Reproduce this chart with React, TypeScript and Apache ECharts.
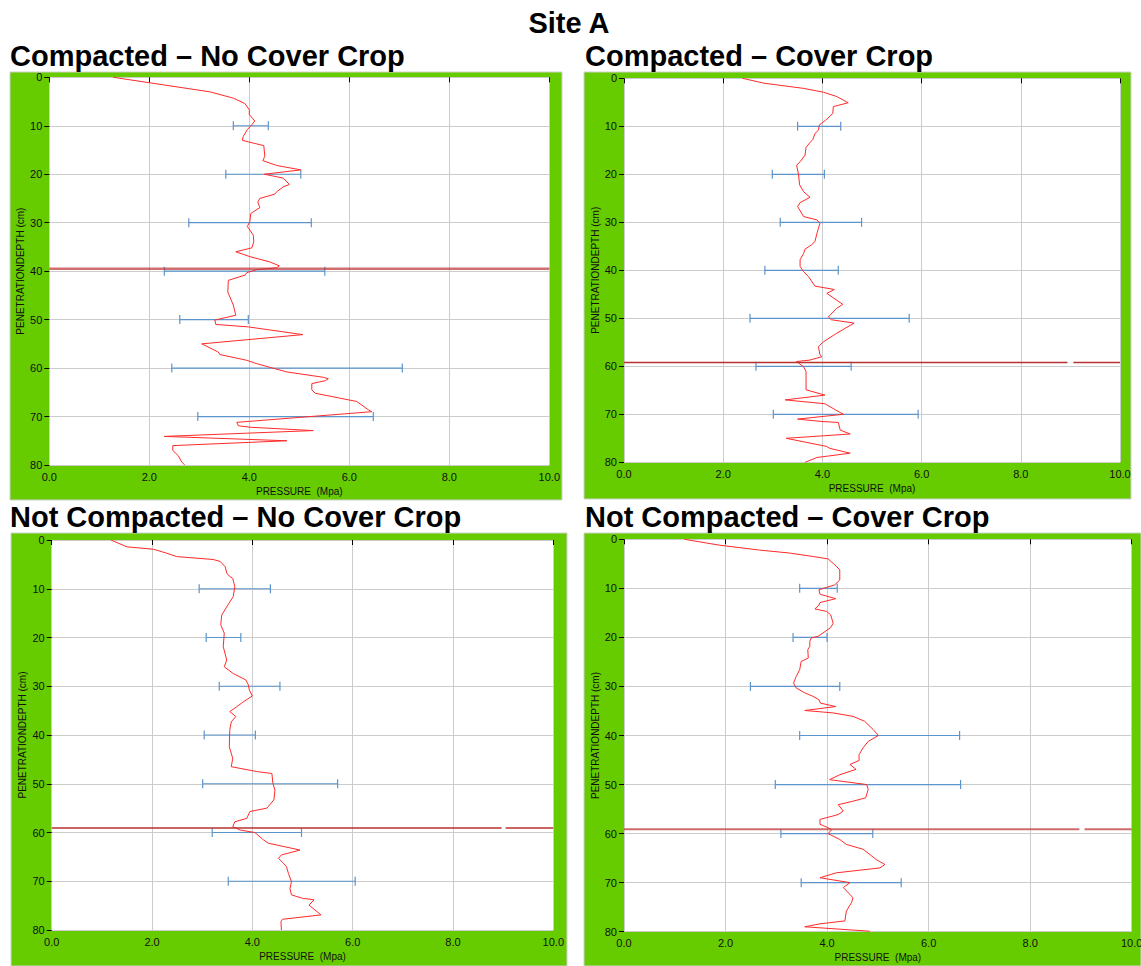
import React, { useEffect, useRef } from "react";
import * as echarts from "echarts";

const SITE_TITLE = "Site A";
const PANEL_TITLES = [
  "Compacted – No Cover Crop",
  "Compacted – Cover Crop",
  "Not Compacted – No Cover Crop",
  "Not Compacted – Cover Crop",
];
const X_AXIS_NAME = "PRESSURE  (Mpa)";
const Y_AXIS_NAME = "PENETRATIONDEPTH (cm)";
const X_TICK_LABELS = ["0.0", "2.0", "4.0", "6.0", "8.0", "10.0"];
const Y_TICK_LABELS = ["0", "10", "20", "30", "40", "50", "60", "70", "80"];

// Panel 1: Compacted – No Cover Crop
const P1_DEPTH = [0, 1.2, 3.0, 4.3, 5.4, 6.7, 7.7, 9.0, 9.8, 10.8, 12.2, 13.0, 13.4, 14.1, 16.3, 17.2, 18.2, 19.1, 20.0, 20.8, 22.1, 22.6, 23.6, 24.1, 25.0, 25.7, 26.9, 28.1, 29.8, 30.8, 31.5, 32.6, 33.9, 35.2, 36.0, 37.0, 38.1, 38.9, 39.3, 39.7, 40.3, 40.8, 41.9, 44.3, 47.0, 49.1, 50.1, 51.0, 51.5, 53.1, 55.0, 56.7, 57.2, 58.4, 59.1, 60.8, 61.9, 62.2, 62.6, 63.2, 64.5, 65.2, 66.9, 68.6, 69.0, 71.2, 71.9, 72.2, 72.9, 74.1, 75.0, 76.0, 77.0, 78.1, 79.4, 80];
const P1_PRESSURE = [1.28, 2.05, 3.21, 3.68, 3.91, 4.0, 4.0, 4.11, 4.05, 3.96, 3.88, 3.86, 4.01, 4.29, 4.31, 4.27, 4.55, 5.03, 4.3, 4.68, 4.8, 4.68, 4.55, 4.51, 4.21, 4.17, 4.21, 4.03, 4.01, 3.96, 4.01, 4.08, 4.09, 4.05, 3.73, 4.01, 4.41, 4.6, 4.55, 4.15, 3.95, 3.92, 3.58, 3.57, 3.68, 3.73, 3.31, 3.33, 3.98, 5.07, 3.05, 3.38, 3.41, 3.95, 4.15, 4.75, 5.48, 5.58, 5.52, 5.25, 5.25, 5.32, 6.15, 6.38, 6.45, 3.75, 3.78, 4.01, 5.28, 2.3, 4.75, 2.47, 2.47, 2.58, 2.65, 2.71];
const P1_ERR_LOW = [3.68, 3.53, 2.79, 2.3, 2.61, 2.45, 2.97];
const P1_ERR_HIGH = [4.38, 5.03, 5.24, 5.51, 3.98, 7.06, 6.48];

// Panel 2: Compacted – Cover Crop
const P2_DEPTH = [0, 1.0, 2.1, 2.9, 3.8, 5.1, 5.9, 7.3, 8.7, 9.7, 10.8, 11.5, 12.7, 13.5, 14.4, 16.0, 17.4, 18.1, 20.1, 22.2, 23.6, 24.8, 25.9, 26.7, 28.8, 29.5, 30.2, 31.3, 32.3, 34.0, 34.7, 35.6, 36.5, 37.8, 39.2, 40.3, 41.3, 43.3, 44.0, 44.8, 47.1, 47.9, 49.7, 50.3, 51.0, 53.1, 54.9, 55.9, 57.6, 58.0, 58.7, 59.0, 60.1, 61.1, 64.9, 66.0, 67.0, 67.8, 70.0, 71.0, 71.5, 71.7, 73.3, 74.1, 75.0, 76.7, 77.1, 78.1, 79.0, 80];
const P2_PRESSURE = [2.39, 2.81, 3.62, 4.02, 4.29, 4.52, 4.22, 4.21, 4.07, 3.94, 3.92, 3.85, 3.81, 3.74, 3.67, 3.65, 3.55, 3.48, 3.52, 3.54, 3.62, 3.75, 3.55, 3.5, 3.62, 3.89, 3.95, 3.92, 3.89, 3.85, 3.78, 3.65, 3.62, 3.55, 3.55, 3.62, 3.72, 3.85, 4.24, 4.09, 4.41, 4.29, 4.12, 4.18, 4.64, 4.29, 4.02, 3.92, 3.95, 3.99, 3.75, 3.48, 3.62, 3.67, 3.67, 4.05, 3.25, 4.05, 4.42, 3.5, 3.99, 4.32, 4.36, 4.56, 3.27, 4.09, 4.15, 4.56, 3.89, 3.65];
const P2_ERR_LOW = [3.5, 2.99, 3.15, 2.84, 2.54, 2.66, 3.01];
const P2_ERR_HIGH = [4.37, 4.04, 4.79, 4.32, 5.75, 4.58, 5.93];

// Panel 3: Not Compacted – No Cover Crop
const P3_DEPTH = [0, 1.4, 1.9, 2.7, 3.4, 4.0, 4.4, 5.5, 6.8, 7.4, 7.9, 9.6, 11.6, 13.7, 15.4, 17.4, 19.1, 21.9, 24.6, 26.0, 27.4, 28.7, 29.7, 30.8, 32.0, 33.2, 34.2, 35.2, 36.2, 37.3, 39.0, 42.4, 44.8, 46.5, 47.5, 47.9, 49.9, 51.3, 53.3, 55.0, 55.7, 57.1, 57.8, 58.8, 59.5, 60.0, 61.5, 62.2, 63.6, 64.6, 65.3, 66.3, 67.0, 68.4, 70.1, 71.5, 72.8, 73.5, 73.8, 74.9, 76.9, 77.8, 78.3, 80];
const P3_PRESSURE = [1.18, 1.5, 2.03, 2.29, 2.49, 3.22, 3.36, 3.46, 3.49, 3.54, 3.61, 3.65, 3.62, 3.49, 3.39, 3.37, 3.44, 3.42, 3.49, 3.44, 3.62, 3.87, 3.92, 3.94, 4.0, 3.82, 3.69, 3.55, 3.67, 3.58, 3.55, 3.54, 3.61, 3.58, 4.09, 4.39, 4.41, 4.45, 4.43, 4.29, 3.95, 3.89, 3.65, 3.61, 3.76, 4.05, 4.22, 4.32, 4.95, 4.58, 4.52, 4.62, 4.68, 4.72, 4.78, 4.75, 4.78, 5.0, 5.23, 5.13, 5.37, 4.6, 4.57, 4.58];
const P3_ERR_LOW = [2.94, 3.08, 3.34, 3.04, 3.01, 3.2, 3.52];
const P3_ERR_HIGH = [4.36, 3.77, 4.55, 4.06, 5.7, 4.98, 6.05];

// Panel 4: Not Compacted – Cover Crop
const P4_DEPTH = [0, 1.2, 2.2, 2.8, 3.5, 4.0, 4.9, 6.2, 8.3, 9.3, 9.8, 10.3, 11.2, 12.1, 12.9, 13.4, 14.2, 14.7, 15.4, 17.1, 18.0, 19.1, 19.8, 20.1, 20.8, 21.8, 22.5, 24.2, 24.9, 26.6, 28.0, 29.3, 30.3, 31.3, 32.0, 32.7, 33.4, 34.1, 34.9, 35.4, 36.1, 37.1, 38.8, 40.0, 41.2, 42.5, 43.9, 45.1, 45.9, 46.9, 48.0, 49.0, 50.0, 51.0, 52.7, 53.4, 54.1, 55.4, 56.1, 56.4, 57.1, 58.1, 58.8, 59.2, 60.0, 61.2, 62.2, 63.2, 65.3, 66.3, 67.0, 68.0, 69.0, 70.0, 71.0, 72.4, 73.1, 74.1, 75.8, 77.8, 78.4, 79.0, 79.9];
const P4_PRESSURE = [1.19, 1.88, 2.67, 3.26, 3.72, 4.02, 4.12, 4.25, 4.25, 4.15, 3.99, 3.84, 3.86, 4.17, 3.86, 3.84, 3.76, 3.99, 4.07, 4.12, 4.07, 3.92, 3.82, 3.69, 3.66, 3.66, 3.62, 3.63, 3.49, 3.46, 3.39, 3.34, 3.39, 3.56, 3.72, 3.84, 3.87, 4.17, 3.56, 4.12, 4.51, 4.74, 4.91, 5.01, 4.81, 4.71, 4.63, 4.63, 4.45, 4.57, 4.25, 4.05, 4.78, 4.81, 4.76, 4.51, 4.22, 4.32, 4.22, 4.12, 3.86, 3.86, 4.02, 4.09, 4.02, 4.25, 4.38, 4.71, 4.97, 5.14, 5.04, 4.18, 3.86, 4.45, 4.32, 4.45, 4.51, 4.48, 4.38, 4.35, 3.86, 3.56, 4.84];
const P4_ERR_LOW = [3.46, 3.33, 2.49, 3.46, 2.98, 3.09, 3.49];
const P4_ERR_HIGH = [4.2, 4.0, 4.25, 6.61, 6.63, 4.9, 5.46];

const ERR_DEPTHS = [10, 20, 30, 40, 50, 60, 70];
const HARDPAN_DEPTH = [39.5, 59.2, 59.1, 59.1];
const HARDPAN_GAP_START = [null, 8.94, 8.97, 8.97];
const HARDPAN_GAP_END = [null, 9.06, 9.05, 9.07];

// layout (pixels)
const GRIDS = [
  { left: 49.3, top: 77.3, width: 500, height: 387.7 },
  { left: 624, top: 78.3, width: 496, height: 384 },
  { left: 51.7, top: 540, width: 501.6, height: 390 },
  { left: 624, top: 539.3, width: 507.7, height: 392.4 },
];
const BOXES = [
  { x: 10, y: 72, w: 552, h: 428 },
  { x: 584, y: 72, w: 547, h: 427 },
  { x: 11, y: 533, w: 556, h: 433 },
  { x: 584, y: 533, w: 557, h: 433 },
];
const TITLE_POS = [
  { x: 10, y: 56 },
  { x: 585, y: 56 },
  { x: 10, y: 517 },
  { x: 585, y: 517 },
];
const HARDPAN_STYLE = [
  { color: "rgba(190,50,50,0.7)", width: 2.5 },
  { color: "#b83232", width: 1.5 },
  { color: "#b83232", width: 1.5 },
  { color: "rgba(196,70,70,0.8)", width: 2 },
];

const PANELS = [
  { depth: P1_DEPTH, pressure: P1_PRESSURE, low: P1_ERR_LOW, high: P1_ERR_HIGH },
  { depth: P2_DEPTH, pressure: P2_PRESSURE, low: P2_ERR_LOW, high: P2_ERR_HIGH },
  { depth: P3_DEPTH, pressure: P3_PRESSURE, low: P3_ERR_LOW, high: P3_ERR_HIGH },
  { depth: P4_DEPTH, pressure: P4_PRESSURE, low: P4_ERR_LOW, high: P4_ERR_HIGH },
];

const FONT = '"Liberation Sans", Arial, Helvetica, sans-serif';

function buildOption() {
  const grid: any[] = [];
  const xAxis: any[] = [];
  const yAxis: any[] = [];
  const series: any[] = [];
  const graphic: any[] = [];

  graphic.push({
    type: "text",
    x: 569,
    y: 23,
    z: 10,
    style: {
      text: SITE_TITLE,
      fill: "#000",
      font: `bold 29px ${FONT}`,
      textAlign: "center",
      textVerticalAlign: "middle",
      align: "center",
      verticalAlign: "middle",
    },
  });

  PANELS.forEach((p, i) => {
    const g = GRIDS[i];
    const b = BOXES[i];
    graphic.push({
      type: "rect",
      z: -10,
      shape: { x: b.x, y: b.y, width: b.w, height: b.h },
      style: { fill: "#66cc00", stroke: "#d0d0d0", lineWidth: 1 },
    });
    graphic.push({
      type: "rect",
      z: -9,
      shape: { x: g.left, y: g.top, width: g.width, height: g.height },
      style: { fill: "#ffffff" },
    });
    graphic.push({
      type: "text",
      x: TITLE_POS[i].x,
      y: TITLE_POS[i].y,
      z: 10,
      style: {
        text: PANEL_TITLES[i],
        fill: "#000",
        font: `bold 29px ${FONT}`,
        textAlign: "left",
        textVerticalAlign: "middle",
        align: "left",
        verticalAlign: "middle",
      },
    });

    grid.push({
      left: g.left,
      top: g.top,
      width: g.width,
      height: g.height,
      show: false,
      containLabel: false,
      outerBoundsMode: "none",
    });

    xAxis.push({
      type: "value",
      gridIndex: i,
      min: 0,
      max: 10,
      interval: 2,
      position: "bottom",
      name: X_AXIS_NAME,
      nameLocation: "middle",
      nameGap: 21,
      nameMoveOverlap: false,
      nameTextStyle: { fontSize: 10, color: "#111", fontFamily: FONT },
      axisLine: { show: true, lineStyle: { color: "#cccccc", width: 1 } },
      axisTick: { show: true, length: 5, lineStyle: { color: "#000", width: 1 } },
      axisLabel: {
        show: true,
        margin: 6,
        fontSize: 11,
        color: "#111",
        fontFamily: FONT,
        formatter: (v: number) => X_TICK_LABELS[Math.round(v / 2)] ?? v.toFixed(1),
      },
      splitLine: { show: true, lineStyle: { color: "#cccccc", width: 1 } },
    });

    yAxis.push({
      type: "value",
      gridIndex: i,
      min: 0,
      max: 80,
      interval: 10,
      inverse: true,
      position: "left",
      name: Y_AXIS_NAME,
      nameLocation: "middle",
      nameGap: 24,
      nameRotate: 90,
      nameMoveOverlap: false,
      nameTextStyle: { fontSize: 10, color: "#111", fontFamily: FONT },
      axisLine: { show: true, lineStyle: { color: "#cccccc", width: 1 } },
      axisTick: { show: true, length: 5, lineStyle: { color: "#000", width: 1 } },
      axisLabel: {
        show: true,
        margin: 7,
        fontSize: 11,
        color: "#111",
        fontFamily: FONT,
        formatter: (v: number) => Y_TICK_LABELS[Math.round(v / 10)] ?? String(v),
      },
      splitLine: { show: true, lineStyle: { color: "#cccccc", width: 1 } },
    });

    // error bars
    series.push({
      type: "custom",
      xAxisIndex: i,
      yAxisIndex: i,
      z: 3,
      silent: true,
      encode: { x: [0, 2], y: 1 },
      data: ERR_DEPTHS.map((d, k) => [p.low[k], d, p.high[k]]),
      renderItem: (_params: any, api: any) => {
        const lo = api.value(0);
        const d = api.value(1);
        const hi = api.value(2);
        const a = api.coord([lo, d]);
        const c = api.coord([hi, d]);
        const h = 4.5;
        const st = { stroke: "#5b95cc", lineWidth: 1.2 };
        return {
          type: "group",
          children: [
            { type: "line", shape: { x1: a[0], y1: a[1], x2: c[0], y2: c[1] }, style: st },
            { type: "line", shape: { x1: a[0], y1: a[1] - h, x2: a[0], y2: a[1] + h }, style: st },
            { type: "line", shape: { x1: c[0], y1: c[1] - h, x2: c[0], y2: c[1] + h }, style: st },
          ],
        };
      },
    });

    // penetration curve
    series.push({
      type: "line",
      xAxisIndex: i,
      yAxisIndex: i,
      z: 4,
      silent: true,
      symbol: "none",
      showSymbol: false,
      smooth: false,
      lineStyle: { color: "#ff2a2a", width: 1 },
      data: p.depth.map((d, k) => [p.pressure[k], d]),
    });

    // hardpan line (segments)
    const hd = HARDPAN_DEPTH[i];
    const gs = HARDPAN_GAP_START[i];
    const ge = HARDPAN_GAP_END[i];
    const segs = gs == null || ge == null ? [[0, hd, 10]] : [[0, hd, gs], [ge, hd, 10]];
    const hs = HARDPAN_STYLE[i];
    series.push({
      type: "custom",
      xAxisIndex: i,
      yAxisIndex: i,
      z: 5,
      silent: true,
      encode: { x: [0, 2], y: 1 },
      data: segs,
      renderItem: (_params: any, api: any) => {
        const a = api.coord([api.value(0), api.value(1)]);
        const c = api.coord([api.value(2), api.value(1)]);
        return {
          type: "line",
          shape: { x1: a[0], y1: a[1], x2: c[0], y2: c[1] },
          style: { stroke: hs.color, lineWidth: hs.width },
        };
      },
    });
  });

  return {
    animation: false,
    backgroundColor: "#ffffff",
    textStyle: { fontFamily: FONT },
    grid,
    xAxis,
    yAxis,
    series,
    graphic,
  };
}

export default function App() {
  const ref = useRef<HTMLDivElement>(null);
  useEffect(() => {
    if (!ref.current) return;
    const chart = echarts.init(ref.current, undefined, { renderer: "svg", width: 1141, height: 966 });
    chart.setOption(buildOption() as any);
    return () => {
      chart.dispose();
    };
  }, []);
  return (
    <div
      ref={ref}
      style={{ position: "absolute", left: 0, top: 0, width: 1141, height: 966, background: "#fff" }}
    />
  );
}
